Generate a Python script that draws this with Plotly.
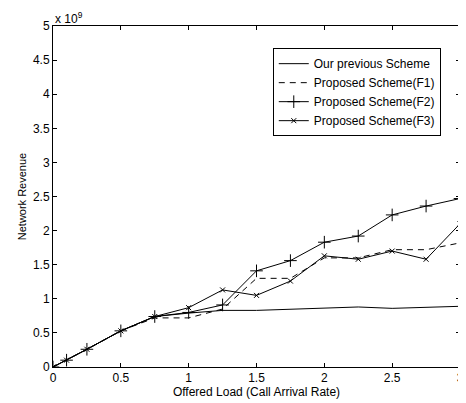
import plotly.graph_objects as go

load = [0, 0.1, 0.25, 0.5, 0.75, 1.0, 1.25, 1.5, 1.75, 2.0, 2.25, 2.5, 2.75, 3.0]
prev_scheme = [0, 0.1, 0.26, 0.53, 0.74, 0.79, 0.83, 0.83, 0.85, 0.87, 0.88, 0.86, 0.87, 0.89]
f1 = [0, 0.1, 0.26, 0.53, 0.72, 0.72, 0.85, 1.30, 1.30, 1.60, 1.60, 1.72, 1.72, 1.82]
f2 = [0, 0.1, 0.26, 0.53, 0.74, 0.80, 0.91, 1.41, 1.56, 1.83, 1.92, 2.23, 2.36, 2.47]
f3 = [0, 0.1, 0.26, 0.53, 0.74, 0.87, 1.13, 1.05, 1.26, 1.63, 1.58, 1.70, 1.58, 2.10]

names = ["Our previous Scheme", "Proposed Scheme(F1)", "Proposed Scheme(F2)", "Proposed Scheme(F3)"]
y_ticks = [0, 0.5, 1, 1.5, 2, 2.5, 3, 3.5, 4, 4.5, 5]
x_ticks = [0, 0.5, 1, 1.5, 2, 2.5, 3]

FONT = "Liberation Sans, Arial"

fig = go.Figure()
fig.add_trace(go.Scatter(x=load, y=prev_scheme, name=names[0], mode="lines",
                         line=dict(color="black", width=1)))
fig.add_trace(go.Scatter(x=load, y=f1, name=names[1], mode="lines",
                         line=dict(color="black", width=1, dash="6px,5px")))
fig.add_trace(go.Scatter(x=load, y=f2, name=names[2], mode="lines+markers",
                         line=dict(color="black", width=1),
                         marker=dict(symbol="cross-thin-open", size=9, color="black",
                                     line=dict(color="black", width=1))))
fig.add_trace(go.Scatter(x=load, y=f3, name=names[3], mode="lines+markers",
                         line=dict(color="black", width=1),
                         marker=dict(symbol="x-thin-open", size=5, color="black",
                                     line=dict(color="black", width=1))))

axis_common = dict(showgrid=False, zeroline=False, showline=True, linecolor="black",
                   linewidth=1, mirror="allticks", ticks="inside", ticklen=4,
                   tickcolor="black", automargin=False,
                   tickfont=dict(family=FONT, size=12, color="black"))

fig.update_xaxes(range=[0, 3], tickvals=x_ticks, ticktext=[str(v) for v in x_ticks],
                 title=dict(text="Offered Load (Call Arrival Rate)", standoff=2,
                            font=dict(family=FONT, size=12, color="black")),
                 **axis_common)
fig.update_yaxes(range=[0, 5], tickvals=y_ticks, ticktext=[f"{v:g}" for v in y_ticks],
                 title=dict(text="Network Revenue", standoff=4,
                            font=dict(family=FONT, size=11, color="black")),
                 **axis_common)

fig.add_annotation(xref="paper", yref="paper", x=0, y=1, xanchor="left", yanchor="bottom",
                   text="x 10<sup>9</sup>", showarrow=False, yshift=-2,
                   font=dict(family=FONT, size=12, color="black"))

fig.update_layout(
    width=458, height=395,
    margin=dict(l=45, r=6, t=18, b=36, autoexpand=False),
    paper_bgcolor="white", plot_bgcolor="white",
    showlegend=True,
    legend=dict(x=0.54, y=0.935, xanchor="left", yanchor="top",
                bordercolor="black", borderwidth=1, bgcolor="white",
                font=dict(family=FONT, size=12, color="black"),
                tracegroupgap=0, itemwidth=30),
)

fig.write_html("out.html")
